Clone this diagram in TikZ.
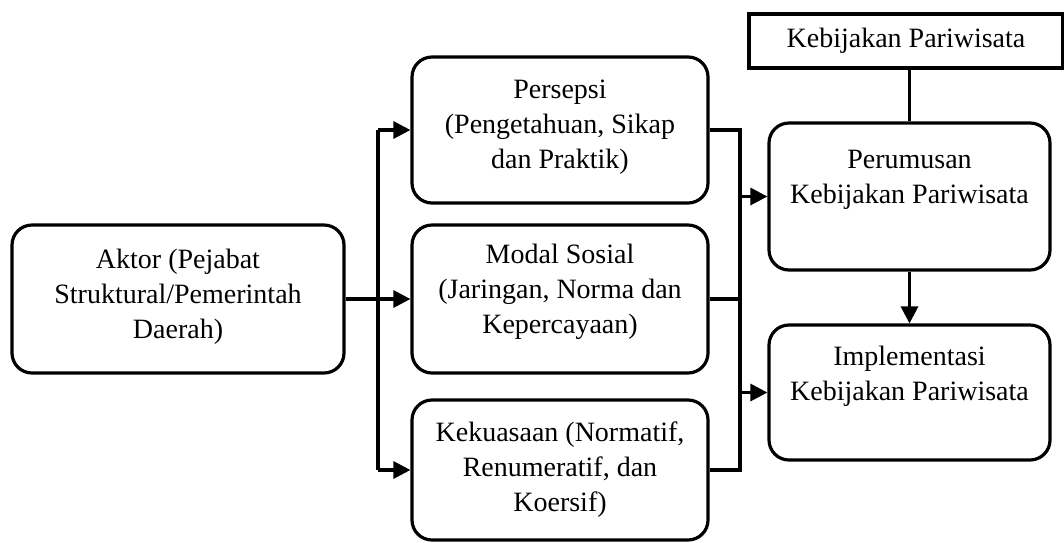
\documentclass[tikz,border=0pt]{standalone}
\usepackage{fontspec}
\setmainfont{Liberation Serif}
\usetikzlibrary{arrows.meta}
\begin{document}
\begin{tikzpicture}[x=1pt,y=-1pt,
  line width=3.2pt,
  rbox/.style={draw,rounded corners=20pt,inner sep=0pt},
  sbox/.style={draw,inner sep=0pt},
  txt/.style={align=center,inner sep=0pt,font=\fontsize{28}{35}\selectfont},
  arr/.style={-{Triangle[length=17pt,width=17pt]}},
]
\useasboundingbox (0,0) rectangle (1064,542);
% boxes
\node[rbox,minimum width=332pt,minimum height=148pt] (akt) at (178,299) {};
\node[rbox,minimum width=296pt,minimum height=146pt] (per) at (560,130) {};
\node[rbox,minimum width=296pt,minimum height=148pt] (mod) at (560,299) {};
\node[rbox,minimum width=296pt,minimum height=140pt] (kek) at (560,470) {};
\node[rbox,minimum width=281pt,minimum height=147pt] (rum) at (909.5,196.5) {};
\node[rbox,minimum width=281pt,minimum height=135pt] (imp) at (909.5,392.5) {};
\node[sbox,minimum width=314pt,minimum height=54pt] (keb) at (906,41) {};
% texts
\node[txt] (akt-t) at ([yshift=2pt]akt.center) {Aktor (Pejabat\\Struktural/Pemerintah\\Daerah)};
\node[txt] (per-t) at ([yshift=3pt]per.center) {Persepsi\\(Pengetahuan, Sikap\\dan Praktik)};
\node[txt] (mod-t) at ([yshift=7pt]mod.center) {Modal Sosial\\(Jaringan, Norma dan\\Kepercayaan)};
\node[txt] (kek-t) at ([yshift=0pt]kek.center) {Kekuasaan (Normatif,\\Renumeratif, dan\\Koersif)};
\node[txt] (rum-t) at ([yshift=17pt]rum.center) {Perumusan\\Kebijakan Pariwisata};
\node[txt] (imp-t) at ([yshift=16pt]imp.center) {Implementasi\\Kebijakan Pariwisata};
\node[txt] (keb-t) at (keb.center) {Kebijakan Pariwisata};
% left branching
\coordinate (bl) at (378,299);
\draw[arr] (akt.east) -- (mod.west);
\draw (bl |- per.west) -- (bl |- kek.west);
\draw[arr] (bl |- per.west) -- (per.west);
\draw[arr] (bl |- kek.west) -- (kek.west);
% right collecting
\coordinate (br) at (740,299);
\draw (per.east) -- (br |- per.east) -- (br |- kek.east) -- (kek.east);
\draw (mod.east) -- (br |- mod.east);
\draw[arr] (br |- rum.west) -- (rum.west);
\draw[arr] (br |- imp.west) -- (imp.west);
% top
\draw (rum.north |- keb.south) -- (rum.north);
\draw[arr] (rum.south) -- (imp.north);
\end{tikzpicture}
\end{document}
